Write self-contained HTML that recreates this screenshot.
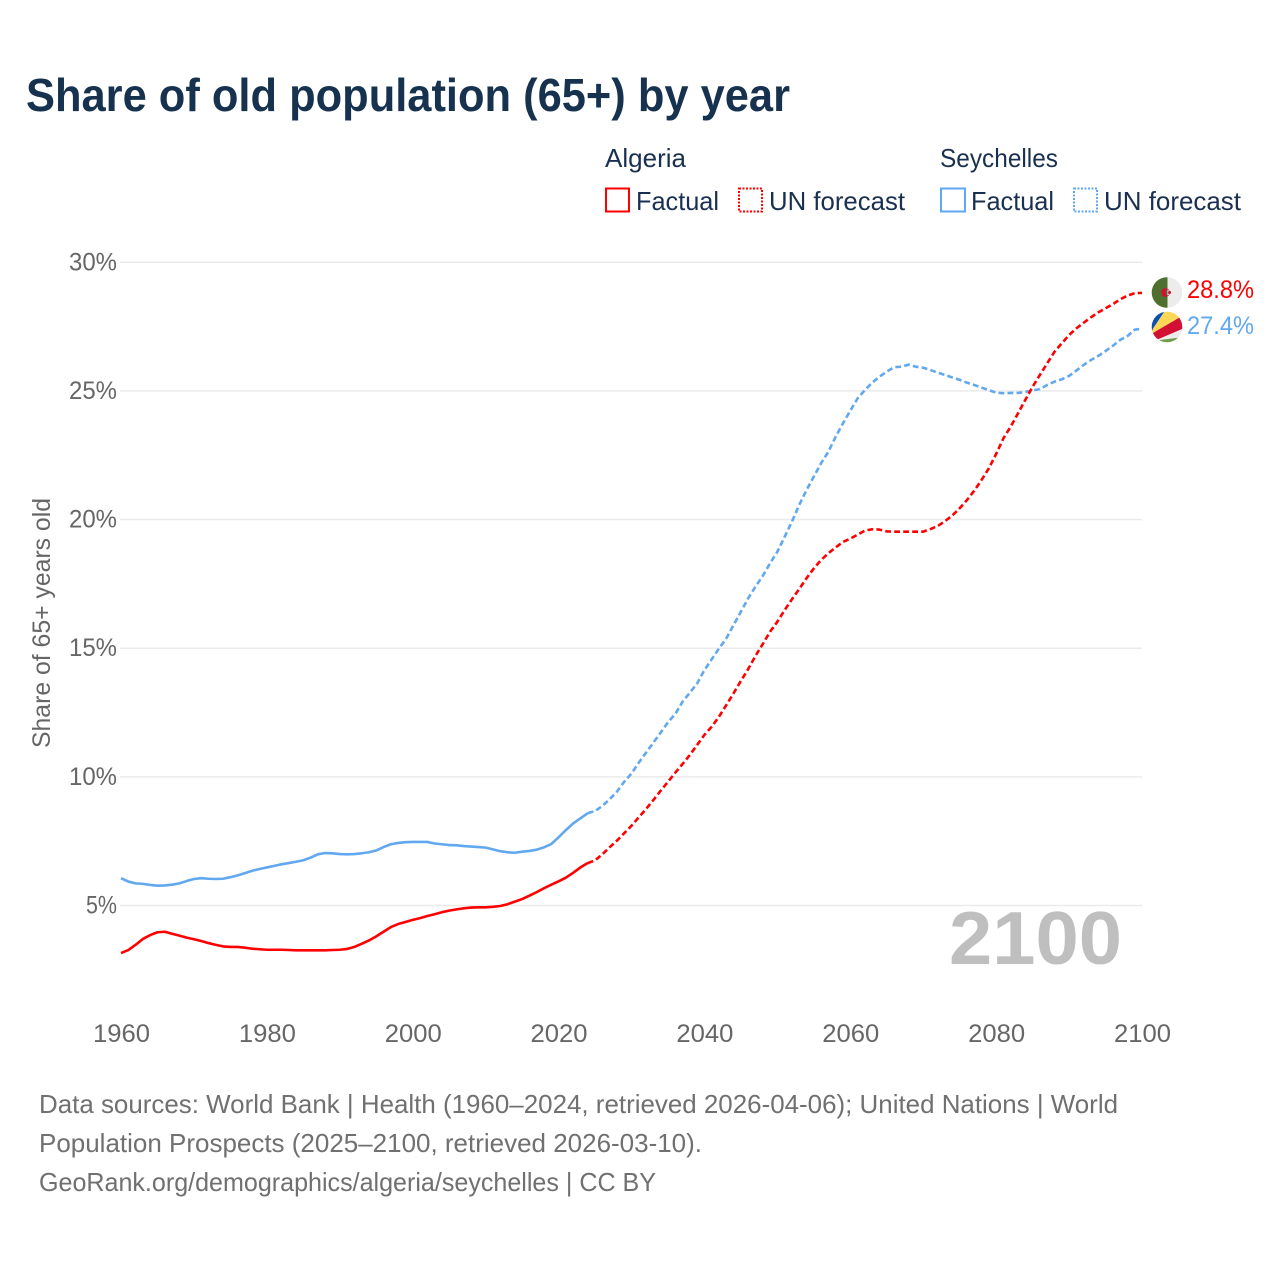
<!DOCTYPE html>
<html lang="en">
<head>
<meta charset="utf-8">
<title>Share of old population (65+) by year</title>
<style>
html,body{margin:0;padding:0;background:#fff}
svg{display:block}
text{font-family:"Liberation Sans",sans-serif}
</style>
</head>
<body>
<svg id="chart" xmlns="http://www.w3.org/2000/svg" width="1280" height="1280" viewBox="0 0 1280 1280">
<defs>
<clipPath id="flag-a"><circle cx="1167" cy="292.5" r="15.3"/></clipPath>
<clipPath id="flag-s"><circle cx="1167" cy="327" r="15.3"/></clipPath>
</defs>
<rect width="1280" height="1280" fill="#fff"/>
<text x="26" y="111" font-size="46" font-weight="700" fill="#17324f" textLength="764" lengthAdjust="spacingAndGlyphs">Share of old population (65+) by year</text>

<g font-size="26" fill="#1a3050">
<text x="605" y="167" textLength="81" lengthAdjust="spacingAndGlyphs">Algeria</text>
<text x="940" y="167" textLength="118" lengthAdjust="spacingAndGlyphs">Seychelles</text>
<rect x="606" y="188.5" width="23" height="23" fill="none" stroke="#ff0000" stroke-width="2"/>
<text x="636" y="210" textLength="83" lengthAdjust="spacingAndGlyphs">Factual</text>
<rect x="739" y="188.5" width="23" height="23" fill="none" stroke="#ff0000" stroke-width="2" stroke-dasharray="2 1.5"/>
<text x="769" y="210" textLength="136" lengthAdjust="spacingAndGlyphs">UN forecast</text>
<rect x="941" y="188.5" width="24" height="23" fill="none" stroke="#62a8ee" stroke-width="2"/>
<text x="971" y="210" textLength="83" lengthAdjust="spacingAndGlyphs">Factual</text>
<rect x="1074" y="188.5" width="23" height="23" fill="none" stroke="#62a8ee" stroke-width="2" stroke-dasharray="2 1.5"/>
<text x="1104" y="210" textLength="137" lengthAdjust="spacingAndGlyphs">UN forecast</text>
</g>

<g id="grid"></g>
<g id="yticks"></g>
<g id="xticks"></g>
<text transform="translate(50,748) rotate(-90)" font-size="25" fill="#666" textLength="250" lengthAdjust="spacingAndGlyphs">Share of 65+ years old</text>
<text x="949" y="964" font-size="75" font-weight="700" fill="#bfbfbf" textLength="173" lengthAdjust="spacingAndGlyphs">2100</text>

<g id="series"></g>

<g clip-path="url(#flag-a)">
<rect x="1151" y="277" width="16.5" height="31" fill="#4f6f2e"/>
<rect x="1167.5" y="277" width="15" height="31" fill="#ececec"/>
<circle cx="1165.5" cy="292.5" r="4.4" fill="#d21034"/>
<path d="M1167.5 289.4 a3.5 3.5 0 0 0 0 6.2 z" fill="#4f6f2e"/>
<path d="M1167.5 289.4 a3.5 3.5 0 0 1 0 6.2 z" fill="#ececec"/>
<circle cx="1169.5" cy="292.5" r="1.5" fill="#d21034"/>
</g>
<g clip-path="url(#flag-s)">
<rect x="1151" y="311" width="32" height="32" fill="#ececec"/>
<polygon points="1150,311 1165,311 1163.3,313.3 1153.3,328.3 1150,335" fill="#0b52b0"/>
<polygon points="1150,335 1153.3,328.3 1163.3,313.3 1165,311 1183,311 1183,315 1180,317.3 1156.7,330.7" fill="#fcd856"/>
<polygon points="1150,335 1156.7,330.7 1180,317.3 1183,315 1183,328 1181.7,329.3 1158.3,339.3" fill="#d21034"/>
<polygon points="1158.3,339.3 1181.7,329.3 1183,328 1183,337 1181.7,337.3 1160,340" fill="#ececec"/>
<polygon points="1160,340 1181.7,337.3 1183,337 1183,344 1155,344" fill="#6f9e4e"/>
</g>
<text x="1187" y="298" font-size="25" fill="#ff0000" textLength="67" lengthAdjust="spacingAndGlyphs">28.8%</text>
<text x="1187" y="334" font-size="25" fill="#62a8ee" textLength="67" lengthAdjust="spacingAndGlyphs">27.4%</text>

<g font-size="26" fill="#707070">
<text x="39" y="1113" textLength="1079" lengthAdjust="spacingAndGlyphs">Data sources: World Bank | Health (1960–2024, retrieved 2026-04-06); United Nations | World</text>
<text x="39" y="1152" textLength="663" lengthAdjust="spacingAndGlyphs">Population Prospects (2025–2100, retrieved 2026-03-10).</text>
<text x="39" y="1191" textLength="617" lengthAdjust="spacingAndGlyphs">GeoRank.org/demographics/algeria/seychelles | CC BY</text>
</g>
</svg>
<script>
const yTickValues = [5, 10, 15, 20, 25, 30];
const yTickLabels = ["5%", "10%", "15%", "20%", "25%", "30%"];
const xTickValues = [1960, 1980, 2000, 2020, 2040, 2060, 2080, 2100];
const factualStartYear = 1960;
const forecastStartYear = 2024;
const algeriaFactual = [3.15,3.27,3.47,3.70,3.85,3.96,3.98,3.90,3.83,3.75,3.69,3.62,3.54,3.47,3.41,3.39,3.39,3.36,3.32,3.30,3.28,3.28,3.28,3.27,3.26,3.26,3.26,3.26,3.26,3.27,3.28,3.31,3.39,3.51,3.64,3.80,3.98,4.16,4.28,4.36,4.44,4.51,4.59,4.66,4.74,4.80,4.85,4.89,4.92,4.93,4.93,4.95,4.98,5.05,5.15,5.25,5.38,5.52,5.67,5.81,5.94,6.08,6.27,6.48,6.65];
const algeriaForecast = [6.65,6.75,6.99,7.26,7.52,7.81,8.10,8.43,8.75,9.10,9.46,9.81,10.16,10.50,10.85,11.24,11.63,11.95,12.34,12.79,13.25,13.73,14.19,14.70,15.16,15.64,16.03,16.48,16.90,17.30,17.72,18.10,18.43,18.69,18.92,19.13,19.26,19.41,19.57,19.62,19.61,19.54,19.53,19.53,19.53,19.53,19.53,19.63,19.75,19.94,20.16,20.44,20.76,21.12,21.54,21.99,22.55,23.16,23.61,24.13,24.65,25.16,25.62,26.07,26.52,26.85,27.17,27.43,27.65,27.86,28.05,28.21,28.37,28.56,28.70,28.80,28.81];
const seychellesFactual = [6.06,5.93,5.86,5.84,5.80,5.77,5.78,5.81,5.86,5.95,6.03,6.06,6.04,6.03,6.04,6.10,6.17,6.26,6.35,6.42,6.48,6.54,6.60,6.65,6.70,6.76,6.86,6.99,7.04,7.03,7.00,6.99,7.00,7.03,7.07,7.14,7.27,7.38,7.43,7.46,7.47,7.47,7.47,7.41,7.38,7.35,7.34,7.31,7.29,7.27,7.25,7.18,7.11,7.07,7.05,7.09,7.12,7.17,7.26,7.39,7.65,7.93,8.19,8.39,8.59];
const seychellesForecast = [8.59,8.67,8.87,9.13,9.42,9.81,10.13,10.55,10.94,11.33,11.72,12.12,12.44,12.92,13.27,13.63,14.15,14.57,14.99,15.38,15.90,16.42,16.94,17.39,17.81,18.30,18.75,19.33,19.92,20.57,21.15,21.67,22.19,22.64,23.22,23.74,24.23,24.71,25.03,25.32,25.55,25.75,25.92,25.94,26.02,25.94,25.90,25.81,25.71,25.62,25.52,25.43,25.32,25.23,25.13,25.03,24.93,24.91,24.92,24.92,24.96,25.02,25.07,25.23,25.36,25.45,25.58,25.79,26.01,26.20,26.36,26.55,26.75,26.98,27.13,27.38,27.42];

const SVGNS = "http://www.w3.org/2000/svg";
function xScale(year) { return 121 + (year - 1960) * (1142 - 121) / 140; }
function yScale(v) { return 905.5 - (v - 5) * (905.5 - 262.25) / 25; }
function pathFrom(values, startYear) {
  return values.map(function (v, i) {
    return (i ? "L" : "M") + xScale(startYear + i).toFixed(2) + " " + yScale(v).toFixed(2);
  }).join("");
}
const gridGroup = document.getElementById("grid");
const yGroup = document.getElementById("yticks");
const xGroup = document.getElementById("xticks");
const seriesGroup = document.getElementById("series");

yTickValues.forEach(function (v, i) {
  const line = document.createElementNS(SVGNS, "line");
  
  
  line.setAttribute("x1", 120);
  line.setAttribute("x2", 1142);
  line.setAttribute("y1", yScale(v));
  line.setAttribute("y2", yScale(v));
  line.setAttribute("stroke", "#ebebeb");
  line.setAttribute("stroke-width", 1.5);
  gridGroup.appendChild(line);

  const label = document.createElementNS(SVGNS, "text");
  
  
  label.setAttribute("x", 117);
  label.setAttribute("y", yScale(v) + 8);
  label.setAttribute("text-anchor", "end");
  label.setAttribute("font-size", 25);
  label.setAttribute("fill", "#666");
  label.setAttribute("textLength", yTickLabels[i].length === 2 ? 31 : 48);
  label.setAttribute("lengthAdjust", "spacingAndGlyphs");
  label.textContent = yTickLabels[i];
  yGroup.appendChild(label);
});

xTickValues.forEach(function (year) {
  const label = document.createElementNS(SVGNS, "text");
  
  
  label.setAttribute("x", xScale(year) + 0.5);
  label.setAttribute("y", 1042);
  label.setAttribute("text-anchor", "middle");
  label.setAttribute("font-size", 25);
  label.setAttribute("fill", "#666");
  label.setAttribute("textLength", 57);
  label.setAttribute("lengthAdjust", "spacingAndGlyphs");
  label.textContent = String(year);
  xGroup.appendChild(label);
});

function drawLine(values, startYear, color, dashed, name) {
  const p = document.createElementNS(SVGNS, "path");
  
  
  p.setAttribute("d", pathFrom(values, startYear));
  p.setAttribute("fill", "none");
  p.setAttribute("stroke", color);
  p.setAttribute("stroke-width", 2.6);
  p.setAttribute("stroke-linejoin", "round");
  if (dashed) p.setAttribute("stroke-dasharray", "5.8 3.2");
  seriesGroup.appendChild(p);
}
drawLine(seychellesFactual, factualStartYear, "#62a8ee", false, "line-seychelles-factual");
drawLine(seychellesForecast, forecastStartYear, "#62a8ee", true, "line-seychelles-forecast");
drawLine(algeriaFactual, factualStartYear, "#ff0000", false, "line-algeria-factual");
drawLine(algeriaForecast, forecastStartYear, "#ff0000", true, "line-algeria-forecast");
</script>
</body>
</html>
